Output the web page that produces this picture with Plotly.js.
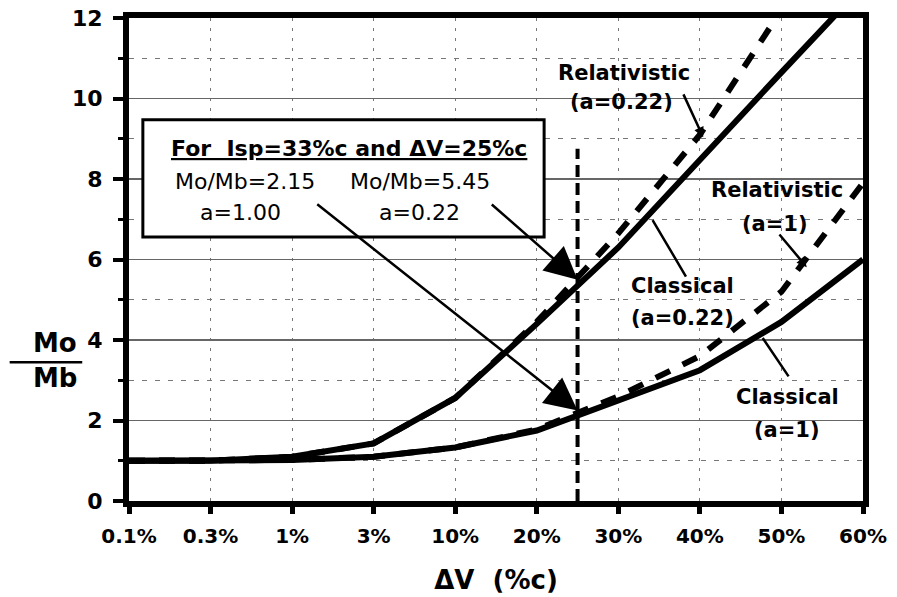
<!DOCTYPE html>
<html>
<head>
<meta charset="utf-8">
<script src="https://cdn.plot.ly/plotly-3.0.1.min.js"></script>
<style>html,body{margin:0;padding:0;background:#fff;}#chart{width:897px;height:597px;}</style>
</head>
<body>
<div id="chart"></div>
<script>
// ---- data ----
const categories = ['0.1%', '0.3%', '1%', '3%', '10%', '20%', '30%', '40%', '50%', '60%'];
const classicalA1 = [1.0, 1.0, 1.02, 1.1, 1.33, 1.75, 2.5, 3.25, 4.45, 6.0];
const relativisticA1 = [1.0, 1.0, 1.02, 1.1, 1.33, 1.78, 2.6, 3.6, 5.2, 7.9];
const classicalA022 = [1.0, 1.0, 1.1, 1.43, 2.56, 4.4, 6.3, 8.5, 10.65, 12.8];
const relativisticA022 = [1.0, 1.0, 1.1, 1.43, 2.56, 4.45, 6.65, 9.1, 12.2, 16.5];
const yTicks = [0, 2, 4, 6, 8, 10, 12];
// reference case: dV = 25%c sits halfway between the 20% and 30% categories
const refPosition = 5.5;
const refTop = 8.75;
const refMassA1 = 2.15;
const refMassA022 = 5.45;

const idx = categories.map((c, i) => i);
const FONT = 'DejaVu Sans';

const solid = (y, name) => ({
  x: idx, y: y, name: name, type: 'scatter', mode: 'lines',
  line: {color: 'black', width: 6}, hoverinfo: 'skip'
});
const dashed = (y, name) => ({
  x: idx, y: y, name: name, type: 'scatter', mode: 'lines',
  line: {color: 'black', width: 6, dash: '16px,14px'}, hoverinfo: 'skip'
});

const traces = [
  solid(classicalA1, 'Classical (a=1)'),
  solid(classicalA022, 'Classical (a=0.22)'),
  dashed(relativisticA1, 'Relativistic (a=1)'),
  dashed(relativisticA022, 'Relativistic (a=0.22)'),
  {x: [refPosition, refPosition], y: [0, refTop], type: 'scatter', mode: 'lines',
   line: {color: 'black', width: 4, dash: '12px,6px'}, hoverinfo: 'skip', name: 'dV=25%c'}
];

const bold = (size) => ({family: FONT, size: size, color: 'black', weight: 'bold'});
const reg = (size) => ({family: FONT, size: size, color: 'black'});

const label = (text, x, y, size) => ({
  text: text, x: x, y: y, xref: 'x', yref: 'y', showarrow: false,
  font: bold(size || 21), xanchor: 'center', yanchor: 'middle'
});
const leader = (ax, ay, x, y, head, size, width) => ({
  text: '', x: x, y: y, ax: ax, ay: ay, xref: 'x', yref: 'y', axref: 'x', ayref: 'y',
  showarrow: true, arrowhead: head, arrowsize: size, arrowwidth: width, arrowcolor: 'black'
});

const annotations = [
  // box text
  {text: '<u>For\u00A0 Isp=33%c and \u0394V=25%c</u>', x: 2.70, y: 8.77, xref: 'x', yref: 'y',
   showarrow: false, font: bold(22)},
  {text: 'Mo/Mb=' + refMassA1.toFixed(2), x: 1.42, y: 7.93, xref: 'x', yref: 'y', showarrow: false, font: reg(22)},
  {text: 'Mo/Mb=' + refMassA022.toFixed(2), x: 3.57, y: 7.93, xref: 'x', yref: 'y', showarrow: false, font: reg(22)},
  {text: 'a=1.00', x: 1.37, y: 7.16, xref: 'x', yref: 'y', showarrow: false, font: reg(22)},
  {text: 'a=0.22', x: 3.56, y: 7.16, xref: 'x', yref: 'y', showarrow: false, font: reg(22)},
  // curve labels
  label('Relativistic', 6.07, 10.63),
  label('(a=0.22)', 6.04, 9.91),
  label('Relativistic', 7.95, 7.73),
  label('(a=1)', 7.92, 6.88),
  label('Classical', 6.79, 5.34),
  label('(a=0.22)', 6.79, 4.55),
  label('Classical', 8.07, 2.58),
  label('(a=1)', 8.07, 1.76),
  // leaders
  leader(6.79, 10.14, 7.04, 9.04, 2, 0.8, 2.5),
  leader(7.96, 6.66, 8.31, 5.81, 2, 0.8, 2.5),
  leader(6.84, 5.54, 6.42, 6.98, 0, 1, 2.5),
  leader(8.10, 3.06, 7.77, 4.05, 0, 1, 2.5),
  // big arrows from the box
  leader(2.29, 7.40, refPosition, refMassA1 + 0.1, 2, 2.6, 2.5),
  leader(4.43, 7.40, refPosition, refMassA022 + 0.05, 2, 2.6, 2.5),
  // y axis title (fraction)
  {text: 'Mo', x: -0.1003, y: 0.3265, xref: 'paper', yref: 'paper', showarrow: false,
   font: bold(26), xanchor: 'center', yanchor: 'middle'},
  {text: 'Mb', x: -0.1003, y: 0.2546, xref: 'paper', yref: 'paper', showarrow: false,
   font: bold(26), xanchor: 'center', yanchor: 'middle'}
];

const shapes = [
  {type: 'rect', xref: 'x', yref: 'y', x0: 0.17, x1: 5.09, y0: 6.56, y1: 9.47,
   line: {color: 'black', width: 3}, fillcolor: 'white', layer: 'above'},
  {type: 'line', xref: 'paper', yref: 'paper', x0: -0.1626, x1: -0.0637, y0: 0.2875, y1: 0.2875,
   line: {color: 'black', width: 2.5}}
];

const layout = {
  width: 897, height: 597,
  margin: {l: 129, r: 34, t: 18, b: 96},
  paper_bgcolor: 'white', plot_bgcolor: 'white',
  showlegend: false,
  xaxis: {
    range: [0, 9], tickvals: idx, ticktext: categories,
    showline: true, linewidth: 6, linecolor: 'black', mirror: true,
    ticks: 'outside', ticklen: 7, tickwidth: 5, tickcolor: 'black',
    showgrid: true, gridcolor: '#777', gridwidth: 1, griddash: '3px,7px',
    zeroline: false, tickfont: bold(20), ticklabelstandoff: 5,
    title: {text: '\u0394V\u00A0 (%c)', font: bold(26), standoff: 26}
  },
  yaxis: {
    range: [0, 12], tickvals: yTicks, ticktext: yTicks.map(String),
    showline: true, linewidth: 6, linecolor: 'black', mirror: true,
    ticks: 'outside', ticklen: 10, tickwidth: 4, tickcolor: 'black',
    showgrid: true, gridcolor: '#666', gridwidth: 1.5,
    minor: {dtick: 1, tick0: 0, ticks: 'outside', ticklen: 5, tickwidth: 3, tickcolor: 'black',
            showgrid: true, gridcolor: '#777', griddash: '5px,8px', gridwidth: 1},
    zeroline: false, tickfont: bold(22), ticklabelstandoff: 6
  },
  annotations: annotations,
  shapes: shapes
};

Plotly.newPlot('chart', traces, layout, {displayModeBar: false, staticPlot: true});
</script>
</body>
</html>
